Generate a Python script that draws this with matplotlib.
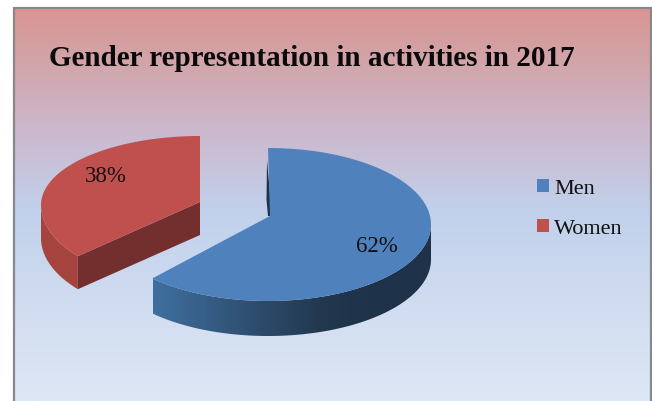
import numpy as np
import matplotlib
matplotlib.use("Agg")
import matplotlib.pyplot as plt
from matplotlib.patches import Polygon, Patch
from matplotlib.colors import LinearSegmentedColormap

categories = ["Men", "Women"]
shares = [62, 38]
labels = ["62%", "38%"]
title = "Gender representation in activities in 2017"

W, H = 652, 401
plt.rcParams['font.family'] = ['Liberation Serif', 'DejaVu Serif']
fig = plt.figure(figsize=(W/100, H/100), dpi=100, facecolor='white')
ax = fig.add_axes([0, 0, 1, 1])
ax.set_axis_off()

# background gradient
stops = [(0.0, '#d99593'), (0.14, '#d2a5aa'), (0.31, '#ccb8cd'), (0.52, '#c1d1ec'),
         (0.75, '#d0dcf0'), (1.0, '#dee7f5')]
cmap_bg = LinearSegmentedColormap.from_list('bg', stops)
bg = ax.imshow(np.linspace(0, 1, 400)[:, None], extent=(14, 651, 401, 8), aspect='auto',
               cmap=cmap_bg, zorder=0)
ax.plot([13.5, 13.5, 650.5, 650.5], [401, 7.5, 7.5, 401], color='#888888', lw=1.6, zorder=1,
        solid_joinstyle='miter')

def rim(theta, cx, cy, rx, ry_up, ry_down):
    t = np.radians(theta)
    c = np.cos(t)
    return cx + rx*np.sin(t), cy - np.where(c > 0, ry_up, ry_down)*c

def side_gradient(verts, stops, x0, x1):
    cm = LinearSegmentedColormap.from_list('s', stops)
    im = ax.imshow(np.linspace(0, 1, 256)[None, :], extent=(x0, x1, 401, 0), aspect='auto',
                   cmap=cm, zorder=3)
    p = Polygon(verts, closed=True, transform=ax.transData, fc='none', ec='none')
    ax.add_patch(p)
    im.set_clip_path(p)

boundary = 360*shares[0]/sum(shares)

# ---- Men slice
bcx, bcy, brx, bup, bdn, bd = 268, 224.5, 163, 76.5, 76.5, 35
theta_b = np.linspace(0, boundary + 2, 200)
bx, by = rim(theta_b, bcx, bcy, brx, bup, bdn)
apex_b = (270, 216)
vis = np.linspace(90, boundary + 2, 150)
vx, vy = rim(vis, bcx, bcy, brx, bup, bdn)
side = np.r_[np.c_[vx, vy], np.c_[vx, vy+bd][::-1]]
side_gradient(side, [(0, '#3f6f9f'), (0.6, '#22384f'), (0.8, '#1e3249'), (1, '#1e3249')], 153, 431)
ax.add_patch(Polygon([(267, 160), (266.5, 200), (268, 216), (272, 216)], fc='#1e3249', ec='none', zorder=3))
ax.add_patch(Polygon(np.r_[np.c_[bx, by], [apex_b]], fc='#4f81bd', ec='none', zorder=4))

# ---- Women slice
rcx, rcy, rrx, rup, rdn, rd = 200, 205, 159, 69, 80, 33
theta_r = np.linspace(boundary + 7, 360, 200)
rx_, ry_ = rim(theta_r, rcx, rcy, rrx, rup, rdn)
apex_r = (200, 202)
vis_r = np.linspace(boundary + 7, 270, 80)
wx, wy = rim(vis_r, rcx, rcy, rrx, rup, rdn)
ax.add_patch(Polygon(np.r_[np.c_[wx, wy], np.c_[wx, wy+rd][::-1]], fc='#a5443f', ec='none', zorder=3))
ax.add_patch(Polygon([apex_r, (wx[0], wy[0]), (wx[0], wy[0]+rd), (apex_r[0], apex_r[1]+rd)],
                     fc='#722f2e', ec='none', zorder=3))
ax.add_patch(Polygon(np.r_[np.c_[rx_, ry_], [apex_r]], fc='#c0504d', ec='none', zorder=4))

# ---- labels
ax.text(377, 246, labels[0], fontsize=16.5, ha='center', va='center', color='#111111', zorder=5)
ax.text(106, 177, labels[1], fontsize=16.5, ha='center', va='center', color='#111111', zorder=5)
ax.text(49, 58, title, fontsize=21, fontweight='bold', ha='left', va='center', color='#0a0a0a', zorder=5)

handles = [Patch(fc='#4f81bd', ec='none'), Patch(fc='#c0504d', ec='none')]
ax.legend(handles, categories, loc='upper left', bbox_to_anchor=(537/W, 1-179/H), frameon=False,
          fontsize=16, handlelength=0.55, handleheight=0.55, handletextpad=0.23,
          labelspacing=0.92, borderpad=0, borderaxespad=0, labelcolor='#111111')

ax.set_xlim(0, W)
ax.set_ylim(H, 0)
fig.savefig('out.png', dpi=100, facecolor='white')
